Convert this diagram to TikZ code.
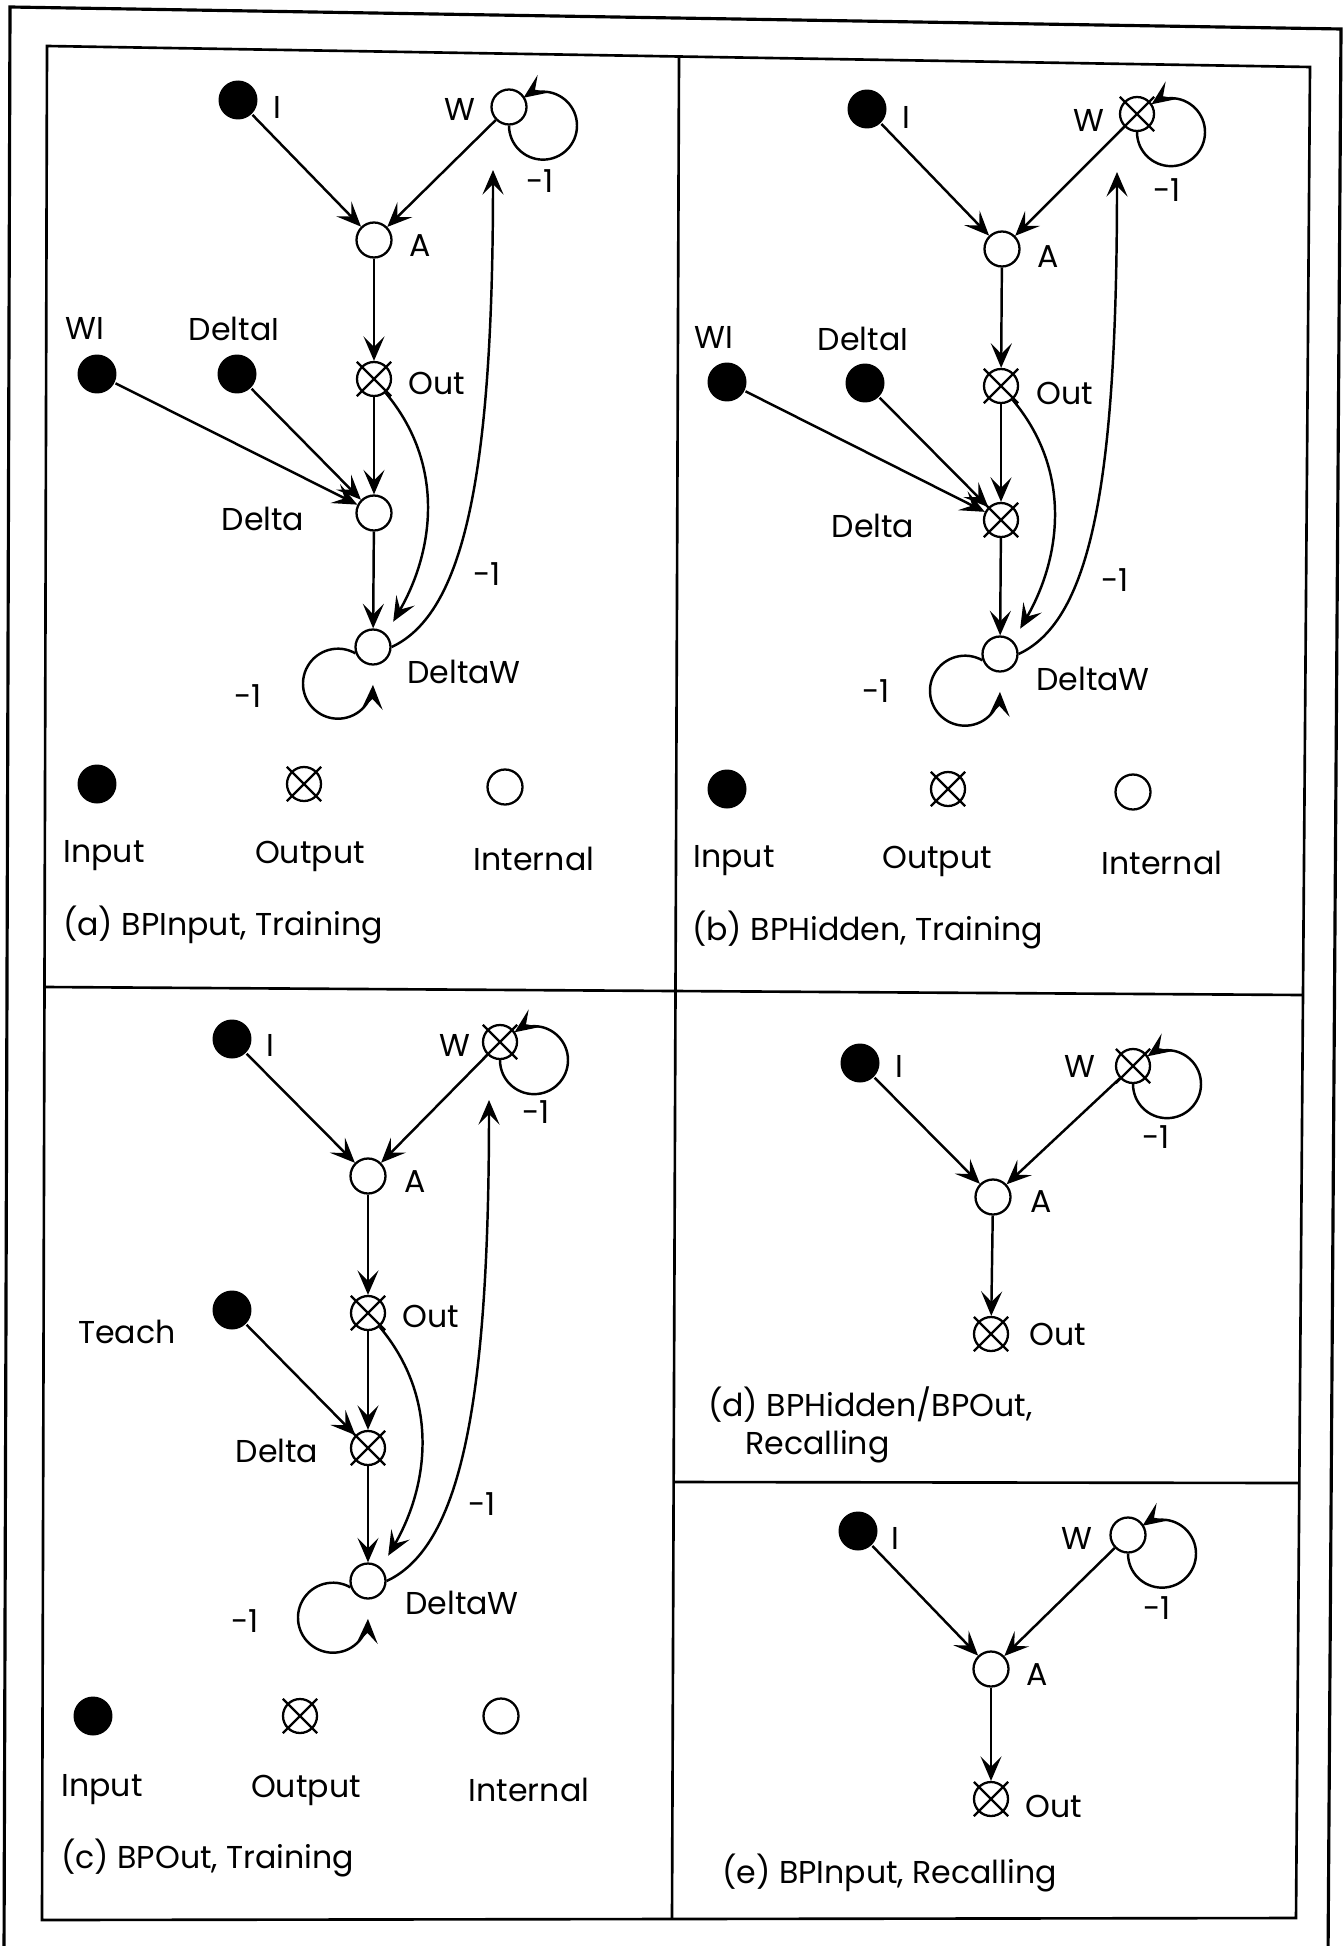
\documentclass[tikz,border=0pt]{standalone}
\usepackage{fontspec}
\setmainfont{Poppins}
\usetikzlibrary{arrows.meta,shapes.misc}

\begin{document}
\begin{tikzpicture}[x=0.02cm,y=0.02cm,line width=1.4pt,
  every node/.style={font=\fontsize{18}{21}\selectfont},
  inp/.style={circle,fill=black,minimum size=0.78cm,inner sep=0pt},
  intl/.style={circle,draw,fill=white,line width=1.3pt,minimum size=0.7cm,inner sep=0pt},
  outp/.style={intl,minimum size=0.68cm,
    label={[cross out,draw,line width=1.3pt,minimum size=0.64cm,inner sep=0pt]center:}},
  arr/.style={-{Stealth[length=14pt,width=12pt,inset=6pt]}},
  frm/.style={line width=1.5pt},
  capt/.style={anchor=west,inner sep=0pt}]
\useasboundingbox (0,0) rectangle (1343,-1946);
% frames
\draw[frm,line width=1.8pt] (4,-1960) -- (10,-7) -- (1341,-29) -- (1328,-1960);
\draw[frm] (47,-46) -- (1310,-67) -- (1296,-1918) -- (42,-1920) -- cycle;
\draw[frm] (679,-57) -- (672,-1919);
\draw[frm] (45,-987) -- (1303,-995);
\draw[frm] (673,-1482) -- (1299,-1483);

% (a) BPInput, Training
\node[inp] (aI) at (238,-100) {};
\node[intl] (aW) at (509,-107) {};
\node[intl] (aA) at (374,-240) {};
\node[inp] (aWI) at (97,-374) {};
\node[inp] (aDI) at (237,-374) {};
\node[outp] (aOut) at (374,-379) {};
\node[intl] (aDelta) at (374,-513) {};
\node[intl] (aDW) at (373,-647) {};
\coordinate (aWin) at (493,-170);
\node (aIt) at (277,-107) {I};
\node (aWt) at (460,-109) {W};
\node (aAt) at (420,-246) {A};
\node (aWIt) at (85,-328) {WI};
\node (aDIt) at (234,-329) {DeltaI};
\node (aOutt) at (437,-383) {Out};
\node (aDeltat) at (263,-519) {Delta};
\node (aDWt) at (464,-672) {DeltaW};
\node (aw1) at (540,-181) {-1};
\node (am1) at (487,-574) {-1};
\node (al1) at (248,-696) {-1};
\draw[arr] (aI) -- (aA);
\draw[arr] (aW) -- (aA);
\draw[arr] (aA) -- (aOut);
\draw[arr] (aOut) -- (aDelta);
\draw[arr] (aWI) -- (aDelta);
\draw[arr] (aDI) -- (aDelta);
\draw[arr] (aDelta) -- (aDW);
\draw[arr,shorten >=0.28cm] (aOut) to[out=-50,in=60] (aDW.45);
\draw[arr] (aDW.east) to[out=25,in=-90,out looseness=0.42,in looseness=1.6] (aWin);
\draw[arr] (aW.south) arc[start angle=180,end angle=485,radius=34];
\draw[arr] (aDW.200) arc[start angle=60,end angle=358,radius=35];
% legend (a)
\node[inp] (aLi) at (97,-784) {};
\node[outp] (aLo) at (304,-784) {};
\node[intl] (aLn) at (505,-787) {};
\node (aLit) at (104,-856) {Input};
\node (aLot) at (310,-856) {Output};
\node (aLnt) at (534,-859) {Internal};
\node[capt] (acap) at (62,-925) {(a) BPInput, Training};

% (b) BPHidden, Training
\node[inp] (bI) at (867,-109) {};
\node[outp] (bW) at (1137,-114) {};
\node[intl] (bA) at (1002,-249) {};
\node[inp] (bWI) at (727,-382) {};
\node[inp] (bDI) at (865,-383) {};
\node[outp] (bOut) at (1001,-386) {};
\node[outp] (bDelta) at (1001,-520) {};
\node[intl] (bDW) at (1000,-654) {};
\coordinate (bWin) at (1117,-172);
\node (bIt) at (906,-117) {I};
\node (bWt) at (1089,-120) {W};
\node (bAt) at (1048,-257) {A};
\node (bWIt) at (714,-337) {WI};
\node (bDIt) at (863,-339) {DeltaI};
\node (bOutt) at (1065,-393) {Out};
\node (bDeltat) at (873,-526) {Delta};
\node (bDWt) at (1093,-679) {DeltaW};
\node (bw1) at (1167,-190) {-1};
\node (bm1) at (1115,-580) {-1};
\node (bl1) at (876,-691) {-1};
\draw[arr] (bI) -- (bA);
\draw[arr] (bW) -- (bA);
\draw[arr] (bA) -- (bOut);
\draw[arr] (bOut) -- (bDelta);
\draw[arr] (bWI) -- (bDelta);
\draw[arr] (bDI) -- (bDelta);
\draw[arr] (bDelta) -- (bDW);
\draw[arr,shorten >=0.28cm] (bOut) to[out=-50,in=60] (bDW.45);
\draw[arr] (bDW.east) to[out=25,in=-90,out looseness=0.42,in looseness=1.6] (bWin);
\draw[arr] (bW.south) arc[start angle=180,end angle=485,radius=34];
\draw[arr] (bDW.200) arc[start angle=60,end angle=358,radius=35];
% legend (b)
\node[inp] (bLi) at (727,-789) {};
\node[outp] (bLo) at (948,-789) {};
\node[intl] (bLn) at (1133,-792) {};
\node (bLit) at (734,-861) {Input};
\node (bLot) at (937,-861) {Output};
\node (bLnt) at (1162,-863) {Internal};
\node[capt] (bcap) at (691,-930) {(b) BPHidden, Training};

% (c) BPOut, Training
\node[inp] (cI) at (232,-1039) {};
\node[outp] (cW) at (500,-1042) {};
\node[intl] (cA) at (368,-1176) {};
\node[inp] (cT) at (232,-1310) {};
\node[outp] (cOut) at (368,-1313) {};
\node[outp] (cDelta) at (368,-1448) {};
\node[intl] (cDW) at (368,-1581) {};
\coordinate (cWin) at (489,-1100);
\node (cIt) at (270,-1045) {I};
\node (cWt) at (455,-1045) {W};
\node (cAt) at (415,-1182) {A};
\node (cTt) at (127,-1332) {Teach};
\node (cOutt) at (431,-1316) {Out};
\node (cDeltat) at (277,-1451) {Delta};
\node (cDWt) at (462,-1603) {DeltaW};
\node (cw1) at (536,-1112) {-1};
\node (cm1) at (482,-1504) {-1};
\node (cl1) at (245,-1621) {-1};
\draw[arr] (cI) -- (cA);
\draw[arr] (cW) -- (cA);
\draw[arr] (cA) -- (cOut);
\draw[arr] (cOut) -- (cDelta);
\draw[arr] (cT) -- (cDelta);
\draw[arr] (cDelta) -- (cDW);
\draw[arr,shorten >=0.28cm] (cOut) to[out=-50,in=60] (cDW.45);
\draw[arr] (cDW.east) to[out=25,in=-90,out looseness=0.42,in looseness=1.6] (cWin);
\draw[arr] (cW.south) arc[start angle=180,end angle=485,radius=34];
\draw[arr] (cDW.200) arc[start angle=60,end angle=358,radius=35];
% legend (c)
\node[inp] (cLi) at (93,-1716) {};
\node[outp] (cLo) at (300,-1716) {};
\node[intl] (cLn) at (501,-1716) {};
\node (cLit) at (102,-1790) {Input};
\node (cLot) at (306,-1790) {Output};
\node (cLnt) at (529,-1790) {Internal};
\node[capt] (ccap) at (60,-1858) {(c) BPOut, Training};

% (d) BPHidden/BPOut, Recalling
\node[inp] (dI) at (860,-1063) {};
\node[outp] (dW) at (1133,-1066) {};
\node[intl] (dA) at (993,-1197) {};
\node[outp] (dOut) at (991,-1334) {};
\node (dIt) at (899,-1066) {I};
\node (dWt) at (1080,-1066) {W};
\node (dAt) at (1041,-1202) {A};
\node (dOutt) at (1058,-1334) {Out};
\node (dw1) at (1156,-1137) {-1};
\draw[arr] (dI) -- (dA);
\draw[arr] (dW) -- (dA);
\draw[arr] (dA) -- (dOut);
\draw[arr] (dW.south) arc[start angle=180,end angle=485,radius=34];
\node[capt] (dcap) at (707,-1405) {(d) BPHidden/BPOut,};
\node[capt] (dcap2) at (744,-1447) {Recalling};

% (e) BPInput, Recalling
\node[inp] (eI) at (858,-1531) {};
\node[intl] (eW) at (1128,-1535) {};
\node[intl] (eA) at (991,-1669) {};
\node[outp] (eOut) at (991,-1799) {};
\node (eIt) at (895,-1538) {I};
\node (eWt) at (1077,-1538) {W};
\node (eAt) at (1037,-1675) {A};
\node (eOutt) at (1054,-1806) {Out};
\node (ew1) at (1157,-1608) {-1};
\draw[arr] (eI) -- (eA);
\draw[arr] (eW) -- (eA);
\draw[arr] (eA) -- (eOut);
\draw[arr] (eW.south) arc[start angle=180,end angle=485,radius=34];
\node[capt] (ecap) at (721,-1873) {(e) BPInput, Recalling};
\end{tikzpicture}
\end{document}
